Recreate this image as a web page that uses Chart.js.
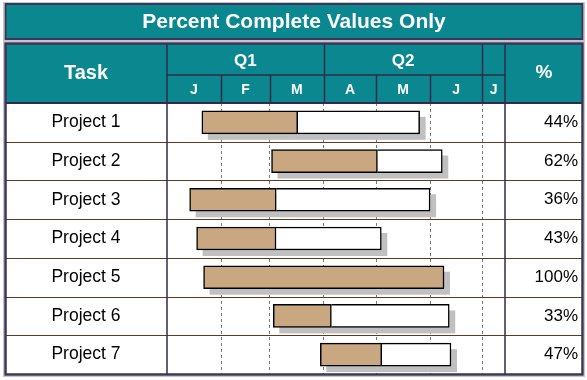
<!DOCTYPE html>
<html><head><meta charset="utf-8">
<script src="https://cdn.jsdelivr.net/npm/chart.js@4/dist/chart.umd.min.js"></script>
<style>html,body{margin:0;padding:0;background:#fff}#wrap{width:587px;height:380px;position:relative}</style>
</head><body><div id="wrap"><canvas id="c"></canvas></div>
<script>
const chartTitle = 'Percent Complete Values Only';
const taskHeader = 'Task';
const pctHeader = '%';
const tasks = ['Project 1','Project 2','Project 3','Project 4','Project 5','Project 6','Project 7'];
const startDay = [20, 60, 13, 17, 21, 61, 88];
const endDay = [145, 158, 151, 123, 159, 162, 163];
const percentComplete = [44, 62, 36, 43, 100, 33, 47];
const monthLabels = ['J','F','M','A','M','J','J'];
const monthStart = [0, 31, 59, 90, 120, 151, 181];
const quarterLabels = ['Q1','Q2'];
const quarterStart = [0, 90, 181];
const axisMaxDay = 194;

const FONT = 'Arial, "Liberation Sans", sans-serif';
const TEAL = '#0b878f', TAN = '#c8a781', SHADOW = '#c0c0c0', ROWLINE = '#5e3b1c', FRAME = '#3e3556', INNER = '#2f2b48';

const completeData = tasks.map((t, i) => [startDay[i], startDay[i] + (endDay[i] - startDay[i]) * percentComplete[i] / 100]);
const remainData = tasks.map((t, i) => percentComplete[i] >= 100 ? null : [completeData[i][1], endDay[i]]);
const pctLabels = percentComplete.map(p => p + '%');

const shadowPlugin = {
  id: 'shadow',
  beforeDatasetsDraw(chart) {
    const ctx = chart.ctx;
    const m0 = chart.getDatasetMeta(0).data, m1 = chart.getDatasetMeta(1).data;
    ctx.save();
    ctx.fillStyle = SHADOW;
    m0.forEach((el, i) => {
      const a = el.getProps(['x','y','base','height'], true);
      let l = Math.min(a.x, a.base), r = Math.max(a.x, a.base);
      const b = m1[i];
      if (b && remainData[i]) {
        const q = b.getProps(['x','base'], true);
        l = Math.min(l, q.x, q.base); r = Math.max(r, q.x, q.base);
      }
      ctx.fillRect(l + 6, a.y - a.height / 2 + 6, r - l, a.height);
    });
    ctx.restore();
  }
};

const tablePlugin = {
  id: 'table',
  afterDraw(chart) {
    const ctx = chart.ctx, A = chart.chartArea, xs = chart.scales.x, ys = chart.scales.y;
    const px = d => xs.getPixelForValue(d);
    const L = 5, R = 583;
    ctx.save();
    ctx.strokeStyle = '#c4c4cc'; ctx.lineWidth = 1;
    ctx.strokeRect(3.5, 2.5, 581, 38);
    ctx.strokeRect(3.5, 41.5, 581, A.bottom - 39);
    // title box
    ctx.fillStyle = TEAL;
    ctx.fillRect(L, 3, R - L, 36);
    ctx.strokeStyle = FRAME; ctx.lineWidth = 2;
    ctx.strokeRect(L + 0.5, 4, R - L - 1, 35);
    ctx.fillStyle = '#fff';
    ctx.font = 'bold 21px ' + FONT;
    ctx.textAlign = 'center'; ctx.textBaseline = 'middle';
    ctx.fillText(chartTitle, (L + R) / 2, 22);
    // header
    const hTop = 44, qBot = 75, hBot = A.top;
    ctx.fillStyle = TEAL;
    ctx.fillRect(L, hTop, R - L, hBot - hTop);
    ctx.strokeStyle = INNER; ctx.lineWidth = 1.5;
    const vline = (x, y1, y2) => { ctx.beginPath(); ctx.moveTo(x, y1); ctx.lineTo(x, y2); ctx.stroke(); };
    const hline = (y, x1, x2) => { ctx.beginPath(); ctx.moveTo(x1, y); ctx.lineTo(x2, y); ctx.stroke(); };
    hline(qBot, A.left, A.right);
    for (let i = 1; i < monthStart.length; i++) vline(Math.round(px(monthStart[i])) + 0.5, qBot, hBot);
    for (let i = 1; i < quarterStart.length; i++) vline(Math.round(px(quarterStart[i])) + 0.5, hTop, qBot);
    ctx.fillStyle = '#fff';
    ctx.font = 'bold 20px ' + FONT;
    ctx.fillText(taskHeader, (L + A.left) / 2, 73);
    ctx.font = 'bold 19px ' + FONT;
    ctx.fillText(pctHeader, (A.right + R) / 2, 73);
    ctx.font = 'bold 17px ' + FONT;
    quarterLabels.forEach((q, i) => ctx.fillText(q, (px(quarterStart[i]) + px(quarterStart[i + 1])) / 2, 61));
    ctx.font = 'bold 14px ' + FONT;
    monthLabels.forEach((m, i) => {
      const a = px(monthStart[i]), b = px(i + 1 < monthStart.length ? monthStart[i + 1] : axisMaxDay);
      ctx.fillText(m, (a + b) / 2, 90);
    });
    // row lines
    ctx.strokeStyle = ROWLINE; ctx.lineWidth = 1;
    for (let i = 0; i < tasks.length - 1; i++) {
      const y = (ys.getPixelForValue(i) + ys.getPixelForValue(i + 1)) / 2;
      hline(Math.round(y) + 0.5, L, R);
    }
    // column lines
    ctx.strokeStyle = INNER; ctx.lineWidth = 1.5;
    vline(A.left, hTop, A.bottom + 1);
    vline(A.right, hTop, A.bottom + 1);
    ctx.lineWidth = 2;
    hline(hBot, L, R);
    // table frame
    ctx.strokeStyle = FRAME; ctx.lineWidth = 2.5;
    ctx.strokeRect(L + 0.5, 43.5, R - L - 1, A.bottom - 43);
    ctx.restore();
  }
};

new Chart(document.getElementById('c'), {
  type: 'bar',
  data: {
    labels: tasks,
    datasets: [
      { label: 'Complete', data: completeData, backgroundColor: TAN, borderColor: '#000', borderWidth: 1.5, borderSkipped: false, barThickness: 23, grouped: false },
      { label: 'Remaining', data: remainData, backgroundColor: '#fff', borderColor: '#000', borderWidth: 1.5, borderSkipped: 'start', barThickness: 23, grouped: false }
    ]
  },
  options: {
    indexAxis: 'y',
    responsive: true,
    maintainAspectRatio: false,
    animation: false,
    events: [],
    layout: { padding: { top: 103, bottom: 6, left: 5, right: 9 } },
    plugins: { legend: { display: false }, tooltip: { enabled: false }, title: { display: false } },
    scales: {
      x: {
        type: 'linear', min: 0, max: axisMaxDay,
        ticks: { display: false },
        grid: { color: '#7a7a7a', lineWidth: 1, drawTicks: false },
        border: { display: false, dash: [3, 3] },
        afterBuildTicks: s => { s.ticks = monthStart.slice(1).map(v => ({ value: v })); },
        afterFit: s => { s.height = 0; }
      },
      y: {
        type: 'category', position: 'left', offset: true,
        grid: { display: false }, border: { display: false },
        ticks: { color: '#000', font: { family: FONT, size: 17.5 }, crossAlign: 'center', padding: 38.5 },
        afterFit: s => { s.width = 162; s.paddingTop = 0; s.paddingBottom = 0; }
      },
      y2: {
        type: 'category', position: 'right', offset: true, labels: pctLabels,
        grid: { display: false }, border: { display: false },
        ticks: { color: '#000', font: { family: FONT, size: 17 }, crossAlign: 'far' },
        afterFit: s => { s.width = 73; s.paddingTop = 0; s.paddingBottom = 0; }
      }
    }
  },
  plugins: [shadowPlugin, tablePlugin]
});
</script>
</body></html>
